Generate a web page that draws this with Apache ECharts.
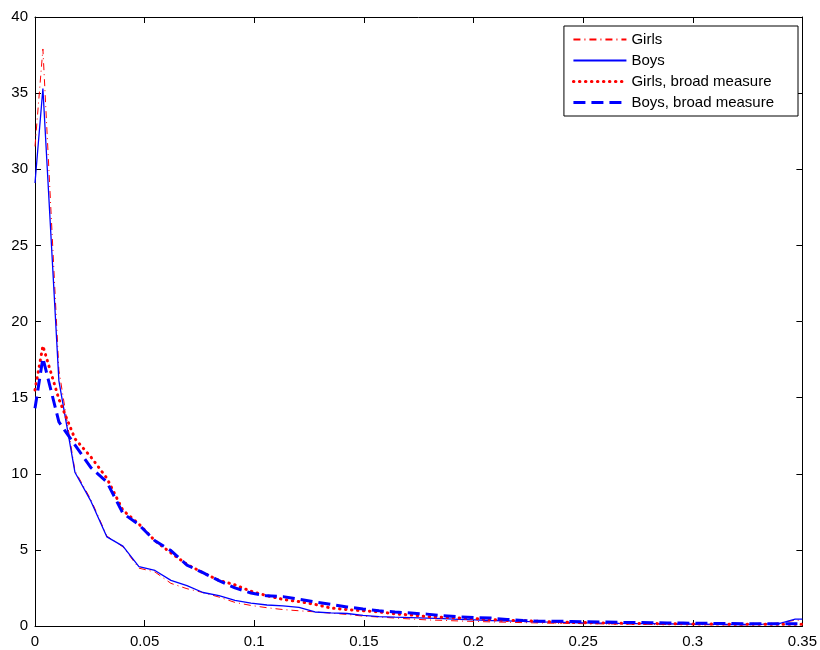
<!DOCTYPE html>
<html>
<head>
<meta charset="utf-8">
<title>echarts</title>
<script src="https://cdn.jsdelivr.net/npm/echarts@6/dist/echarts.min.js"></script>
</head>
<style>
html,body{margin:0;padding:0;background:#fff;}
#container{
    height:650px;
    width:820px;
}
</style>
<body>
<div id="container"></div>
<script>
    // x positions (bin centres), shared by all four curves
    var xs = [0, 0.0036, 0.0109, 0.0182, 0.0255, 0.0328, 0.0401, 0.0474, 0.0547, 0.0620,
        0.0693, 0.0766, 0.0839, 0.0912, 0.0985, 0.1058, 0.1131, 0.1204, 0.1277, 0.1350,
        0.1423, 0.1496, 0.1569, 0.1642, 0.1715, 0.1788, 0.1861, 0.1934, 0.2007, 0.2080,
        0.2153, 0.2226, 0.2299, 0.2372, 0.2445, 0.2518, 0.2591, 0.2664, 0.2737, 0.2810,
        0.2883, 0.2956, 0.3029, 0.3102, 0.3175, 0.3248, 0.3321, 0.3394, 0.3467, 0.35];
    var girls = [31.5, 37.9, 16.8, 10.2, 8.3, 5.9, 5.2, 3.8, 3.55, 2.8,
        2.45, 2.2, 1.9, 1.55, 1.35, 1.2, 1.08, 1.0, 0.93, 0.84,
        0.76, 0.65, 0.59, 0.52, 0.46, 0.4, 0.37, 0.33, 0.3, 0.27,
        0.25, 0.22, 0.2, 0.18, 0.17, 0.15, 0.14, 0.13, 0.12, 0.11,
        0.1, 0.1, 0.09, 0.08, 0.08, 0.08, 0.1, 0.2, 0.38, 0.38];
    var boys = [29.1, 35.3, 16.1, 10.1, 8.2, 5.85, 5.25, 3.9, 3.65, 3.0,
        2.65, 2.2, 2.0, 1.68, 1.5, 1.38, 1.32, 1.22, 0.92, 0.86,
        0.82, 0.7, 0.62, 0.58, 0.55, 0.52, 0.48, 0.44, 0.4, 0.36,
        0.34, 0.3, 0.27, 0.25, 0.22, 0.2, 0.19, 0.17, 0.16, 0.15,
        0.14, 0.13, 0.12, 0.11, 0.1, 0.1, 0.12, 0.15, 0.45, 0.45];
    var girlsBroad = [15.5, 18.4, 14.9, 12.3, 11.1, 9.7, 7.6, 6.7, 5.6, 4.8,
        4.05, 3.5, 3.0, 2.7, 2.28, 1.99, 1.75, 1.6, 1.42, 1.18,
        1.08, 1.0, 0.93, 0.8, 0.72, 0.62, 0.57, 0.53, 0.49, 0.42,
        0.36, 0.35, 0.3, 0.26, 0.24, 0.22, 0.2, 0.18, 0.17, 0.16,
        0.15, 0.14, 0.13, 0.13, 0.12, 0.12, 0.11, 0.11, 0.11, 0.11];
    var boysBroad = [14.3, 17.6, 13.4, 11.9, 10.4, 9.45, 7.4, 6.65, 5.6, 4.95,
        4.0, 3.5, 2.98, 2.5, 2.17, 1.98, 1.93, 1.76, 1.58, 1.42,
        1.25, 1.12, 1.0, 0.92, 0.85, 0.78, 0.68, 0.6, 0.55, 0.52,
        0.43, 0.36, 0.32, 0.31, 0.3, 0.28, 0.26, 0.24, 0.23, 0.22,
        0.2, 0.19, 0.18, 0.17, 0.16, 0.15, 0.15, 0.14, 0.14, 0.14];
    var names = ['Girls', 'Boys', 'Girls, broad measure', 'Boys, broad measure'];

    function pairs(ys){
        return ys.map(function(y, i){ return [xs[i], y]; });
    }

    var font = 'Liberation Sans, Arial, sans-serif';
    var axisLine = {show:true, onZero:false, lineStyle:{color:'#000', width:1}};
    var tick = {show:true, inside:true, length:6, lineStyle:{color:'#000'}};

    var option = {
        animation:false,
        backgroundColor:'#fff',
        grid: {
            left:35,
            right:14,
            top:17,
            bottom:24
        },
        legend: {
            data:[
                {name:names[0]},
                {name:names[1]},
                {name:names[2], lineStyle:{width:3, cap:'round'}},
                {name:names[3], lineStyle:{width:3}}
            ],
            orient:'vertical',
            right:22,
            top:26,
            padding:[6,24,6,8],
            itemGap:6,
            itemWidth:53,
            itemHeight:14,
            backgroundColor:'#fff',
            borderColor:'#000',
            borderWidth:1,
            borderRadius:0,
            itemStyle:{opacity:0, borderWidth:0}, // hide the circle marker, keep the line
            textStyle:{color:'#000', fontSize:15, fontFamily:font}
        },
        xAxis: [{
            type:'value',
            min:0,
            max:0.35,
            interval:0.05,
            position:'bottom',
            splitLine:{show:false},
            axisLine:axisLine,
            axisTick:tick,
            axisLabel:{color:'#000', fontSize:15, fontFamily:font, margin:8}
        },{
            type:'value',
            min:0,
            max:0.35,
            interval:0.05,
            position:'top',
            splitLine:{show:false},
            axisLine:axisLine,
            axisTick:tick,
            axisLabel:{show:false}
        }],
        yAxis: [{
            type:'value',
            min:0,
            max:40,
            interval:5,
            position:'left',
            splitLine:{show:false},
            axisLine:axisLine,
            axisTick:tick,
            axisLabel:{color:'#000', fontSize:15, fontFamily:font, margin:7}
        },{
            type:'value',
            min:0,
            max:40,
            interval:5,
            position:'right',
            splitLine:{show:false},
            axisLine:axisLine,
            axisTick:tick,
            axisLabel:{show:false}
        }],
        series: [
            {
                name:names[0],
                type:'line',
                symbol:'none',
                lineStyle:{color:'#ff0000', width:1, type:[7,4,1,4]},
                itemStyle:{color:'#ff0000'},
                data:pairs(girls)
            },
            {
                name:names[1],
                type:'line',
                symbol:'none',
                lineStyle:{color:'#0000ff', width:1.3, type:'solid'},
                itemStyle:{color:'#0000ff'},
                data:pairs(boys)
            },
            {
                name:names[2],
                type:'line',
                symbol:'none',
                lineStyle:{color:'#ff0000', width:3, type:[0.5,5.5], cap:'round'},
                itemStyle:{color:'#ff0000'},
                data:pairs(girlsBroad)
            },
            {
                name:names[3],
                type:'line',
                symbol:'none',
                lineStyle:{color:'#0000ff', width:3, type:[12,6]},
                itemStyle:{color:'#0000ff'},
                data:pairs(boysBroad)
            }
        ]
    };
    var myChart = echarts.init(document.getElementById("container"));
    myChart.setOption(option, true);
</script>
</body>
</html>
